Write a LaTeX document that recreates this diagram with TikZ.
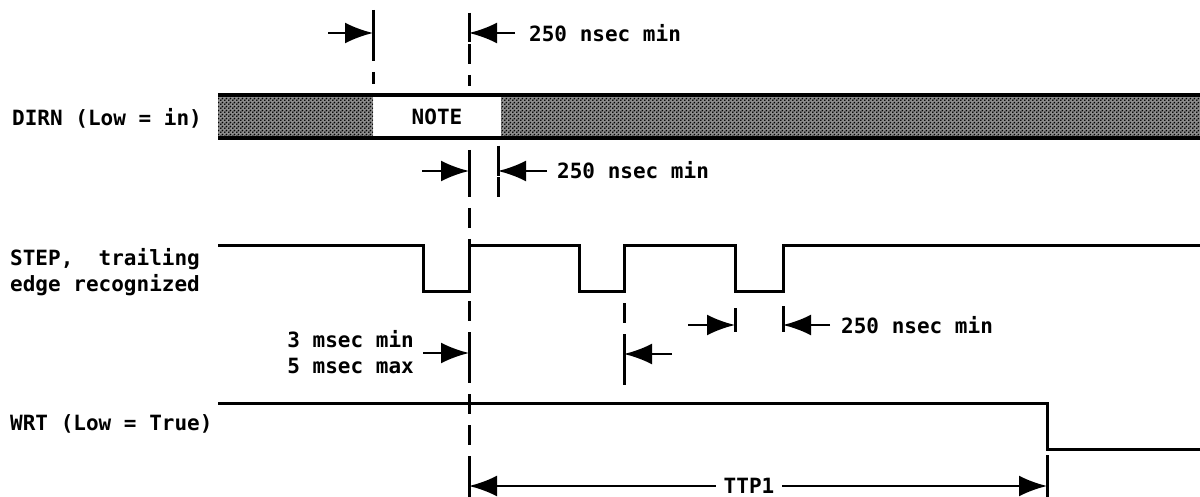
\documentclass[tikz,border=0pt]{standalone}
\usepackage{fontspec}
\setmonofont{DejaVu Sans Mono}
\usetikzlibrary{arrows.meta,patterns}
\pgfdeclarepatternformonly{busdots}{\pgfpointorigin}{\pgfpoint{4pt}{4pt}}{\pgfpoint{4pt}{4pt}}{%
  \pgfpathcircle{\pgfpoint{1pt}{1pt}}{1.1pt}%
  \pgfpathcircle{\pgfpoint{3pt}{3pt}}{1.1pt}%
  \pgfusepath{fill}}
\begin{document}
\begin{tikzpicture}[x=1pt,y=-1pt,
  lbl/.style={font=\ttfamily\bfseries\fontsize{21}{26}\selectfont, inner sep=0pt},
  wave/.style={line width=3pt, line join=miter},
  dline/.style={line width=3pt, dash pattern=on 20pt off 11pt},
  dimarrow/.style={line width=2.5pt, -{Latex[length=28pt,width=21pt]}},
  tick/.style={line width=3pt},
  busline/.style={line width=4pt},
  busfill/.style={pattern=busdots}]
\useasboundingbox (0,0) rectangle (1200,497);

% ---- labels
\node[lbl, anchor=west] (dirn) at (12,118) {DIRN (Low = in)};
\node[lbl, anchor=west, align=left] (step) at (10,272) {STEP,\ \ trailing\\edge recognized};
\node[lbl, anchor=west] (wrt) at (10,424) {WRT (Low = True)};

% ---- DIRN bus
\fill[black!45] (218,95) rectangle (373,138);
\fill[black!45] (501,95) rectangle (1200,138);
\fill[busfill] (218,95) rectangle (373,138);
\fill[busfill] (501,95) rectangle (1200,138);
\draw[busline] (218,95) -- (1200,95);
\draw[busline] (218,138) -- (1200,138);
\node[lbl] (note) at (437,117) {NOTE};

% ---- STEP waveform
\draw[wave] (218,246) -- (423,246) -- (423,292) -- (469,292) -- (469,246)
  -- (579,246) -- (579,292) -- (624,292) -- (624,246)
  -- (735,246) -- (735,292) -- (783,292) -- (783,246) -- (1200,246);

% ---- WRT waveform
\draw[wave] (218,403) -- (1047,403) -- (1047,449) -- (1200,449);

% ---- dashed reference lines
\draw[dline] (373,10) -- (373,84);
\draw[dline] (469,13) -- (469,86);
\draw[dline, dash phase=4pt] (469,150) -- (469,497);
\draw[dline] (498,146) -- (498,200);
\draw[dline] (624,303) -- (624,392);
\draw[dline] (1047,455) -- (1047,497);

% ---- ticks at arrow tips
\draw[tick] (373,20) -- (373,46);
\draw[tick] (469,13) -- (469,42);
\draw[tick] (469,152) -- (469,178);
\draw[tick] (498,146) -- (498,176);
\draw[tick] (469,338) -- (469,364);
\draw[tick] (624,340) -- (624,366);
\draw[tick] (735,308) -- (735,332);
\draw[tick] (783,306) -- (783,332);
\draw[tick] (469,474) -- (469,497);
\draw[tick] (1047,474) -- (1047,497);

% ---- dimension texts
\node[lbl, anchor=west] (t1) at (529,33) {250 nsec min};
\node[lbl, anchor=west] (t2) at (557,170) {250 nsec min};
\node[lbl, anchor=west] (t3) at (841,325) {250 nsec min};
\node[lbl, anchor=east, align=right] (t4) at (414,352) {3 msec min\\5 msec max};
\node[lbl, inner xsep=8pt] (ttp) at (749,486) {TTP1};

% ---- arrow end coordinates
\coordinate (a1s) at (328,33);  \coordinate (a1e) at (373,33);
\coordinate (a2s) at (515,33);  \coordinate (a2e) at (469,33);
\coordinate (a3s) at (422,171); \coordinate (a3e) at (469,171);
\coordinate (a4s) at (547,171); \coordinate (a4e) at (498,171);
\coordinate (a5s) at (423,353); \coordinate (a5e) at (469,353);
\coordinate (a6s) at (672,354); \coordinate (a6e) at (624,354);
\coordinate (a7s) at (688,325); \coordinate (a7e) at (735,325);
\coordinate (a8s) at (830,325); \coordinate (a8e) at (783,325);
\coordinate (ttl) at (469,486); \coordinate (ttr) at (1047,486);

% ---- arrows
\draw[dimarrow] (a1s) -- (a1e);
\draw[dimarrow] (a2s) -- (a2e);
\draw[dimarrow] (a3s) -- (a3e);
\draw[dimarrow] (a4s) -- (a4e);
\draw[dimarrow] (a5s) -- (a5e);
\draw[dimarrow] (a6s) -- (a6e);
\draw[dimarrow] (a7s) -- (a7e);
\draw[dimarrow] (a8s) -- (a8e);
\draw[dimarrow] (ttp.west) -- (ttl);
\draw[dimarrow] (ttp.east) -- (ttr);
\end{tikzpicture}
\end{document}
